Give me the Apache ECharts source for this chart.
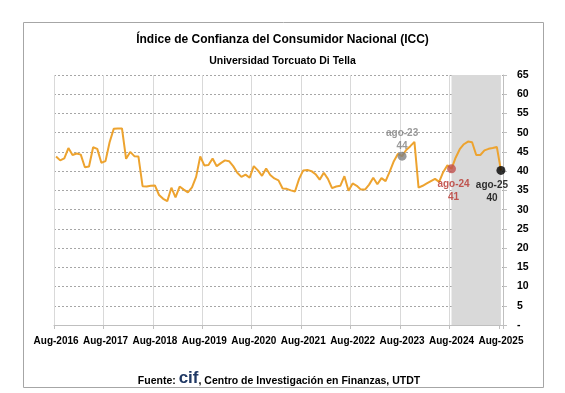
<!DOCTYPE html>
<html><head><meta charset="utf-8">
<script src="https://cdn.jsdelivr.net/npm/echarts@6/dist/echarts.min.js"></script>
<style>html,body{margin:0;padding:0;background:#fff}#c{width:565px;height:393px}</style>
</head><body><div id="c"></div>
<script>
// ---- data ----
const startYear = 2016;
const startMonthIndex = 7; // August
const monthNames = ['Jan','Feb','Mar','Apr','May','Jun','Jul','Aug','Sep','Oct','Nov','Dec'];
const iccValues = [
  43.8, 42.8, 43.3, 46.0, 44.2, 44.6, 44.3, 41.0, 41.2, 46.2, 45.8, 42.2,
  42.6, 47.5, 51.0, 51.1, 51.1, 43.2, 45.0, 43.9, 43.8, 36.1, 36.0, 36.2,
  36.3, 33.8, 32.8, 32.2, 35.7, 33.2, 36.0, 35.2, 34.5, 35.8, 38.5, 43.8,
  41.5, 41.6, 43.3, 41.3, 42.1, 42.8, 42.6, 41.3, 39.6, 38.5, 39.1, 38.3,
  41.3, 40.2, 38.8, 40.7, 39.0, 38.1, 37.6, 35.5, 35.4, 35.0, 34.7, 38.0,
  40.2, 40.3, 40.0, 39.2, 37.8, 39.6, 38.0, 35.6, 36.0, 36.2, 38.7, 34.9,
  36.8, 36.2, 35.2, 35.2, 36.5, 38.3, 36.6, 38.2, 37.4, 39.9, 42.6, 44.5,
  43.9, 45.5, 46.5, 47.6, 35.7, 36.2, 36.8, 37.4, 38.0, 37.2, 39.8, 41.5,
  40.6, 43.5, 45.7, 47.0, 47.7, 47.5, 44.2, 44.2, 45.4, 45.8, 46.0, 46.3,
  40.2
];
const categories = iccValues.map((_, i) => {
  const k = startMonthIndex + i;
  return monthNames[k % 12] + '-' + (startYear + Math.floor(k / 12));
});
const highlightCats = ['Aug-2023', 'Aug-2024', 'Aug-2025'];
const highlightTags = ['ago-23', 'ago-24', 'ago-25'];
const shadeRange = ['Aug-2024', 'Aug-2025'];
const yMin = 0, yMax = 65, yStep = 5;

const titleText = 'Índice de Confianza del Consumidor Nacional (ICC)';
const subtitleText = 'Universidad Torcuato Di Tella';

// ---- styles ----
const FONT = "'Liberation Sans', Arial, sans-serif";
const hlDot = ['#7F7F7F', '#C0504D', '#000000'];
const hlText = ['#7F7F7F', '#B8322C', '#000000'];
const hlPos = ['top', 'bottom', 'bottom'];
const hlOffset = [[0, 3], [2, 2], [-9, 2]];

const chart = echarts.init(document.getElementById('c'), null, {renderer: 'canvas'});

const hlSeries = highlightCats.map((cat, j) => ({
  type: 'scatter',
  data: [[cat, iccValues[categories.indexOf(cat)]]],
  symbolSize: 9,
  itemStyle: {color: hlDot[j]},
  z: 5,
  label: {
    show: true,
    position: hlPos[j],
    distance: 2,
    offset: hlOffset[j],
    color: hlText[j],
    fontFamily: FONT,
    fontWeight: 'bold',
    fontSize: 10,
    lineHeight: 13,
    formatter: p => highlightTags[j] + '\n' + Math.round(p.value[1])
  }
}));

chart.setOption({
  animation: false,
  backgroundColor: '#fff',
  textStyle: {fontFamily: FONT},
  graphic: [{
    type: 'rect', silent: true, z: -10,
    shape: {x: 23.5, y: 22.5, width: 520, height: 365},
    style: {fill: 'none', stroke: '#A6A6A6', lineWidth: 1}
  }],
  title: [
    {text: titleText, left: 'center', top: 29,
     textStyle: {fontFamily: FONT, fontSize: 12, fontWeight: 'bold', color: '#000'}},
    {text: subtitleText, left: 'center', top: 51,
     textStyle: {fontFamily: FONT, fontSize: 10.5, fontWeight: 'bold', color: '#000'}},
    {text: '{a|Fuente: }{b|cif}{a|, Centro de Investigación en Finanzas, UTDT}',
     left: 274, textAlign: 'center', top: 366,
     textStyle: {rich: {
       a: {fontFamily: FONT, fontSize: 10.5, fontWeight: 'bold', color: '#000', verticalAlign: 'bottom', lineHeight: 16},
       b: {fontFamily: FONT, fontSize: 17, fontWeight: 'bold', color: '#1F3864', verticalAlign: 'bottom', lineHeight: 16}
     }}}
  ],
  grid: {left: 54, right: 62, top: 75, bottom: 68, containLabel: false},
  xAxis: {
    type: 'category',
    data: categories,
    boundaryGap: true,
    axisLine: {lineStyle: {color: '#BFBFBF'}},
    axisTick: {show: true, interval: 11, length: 4, lineStyle: {color: '#BFBFBF'}},
    axisLabel: {interval: 11, margin: 11, color: '#000', fontFamily: FONT, fontWeight: 'bold', fontSize: 10},
    splitLine: {show: true, interval: 11, lineStyle: {color: '#D9D9D9', width: 1}}
  },
  yAxis: {
    type: 'value',
    position: 'right',
    min: yMin, max: yMax, interval: yStep,
    axisLine: {show: true, lineStyle: {color: '#BFBFBF'}},
    axisTick: {show: true, length: 4, lineStyle: {color: '#BFBFBF'}},
    axisLabel: {margin: 14, color: '#000', fontFamily: FONT, fontWeight: 'bold', fontSize: 10.5,
      formatter: v => v === 0 ? '-' : String(v)},
    splitLine: {show: true, lineStyle: {color: '#A6A6A6', type: [2, 2], width: 1}}
  },
  series: [{
    type: 'line',
    data: iccValues,
    symbol: 'none',
    lineStyle: {color: '#EDA32F', width: 2},
    z: 3,
    markArea: {
      silent: true,
      itemStyle: {color: '#D9D9D9'},
      data: [[{xAxis: shadeRange[0]}, {xAxis: shadeRange[1]}]]
    }
  }].concat(hlSeries)
});
</script></body></html>
